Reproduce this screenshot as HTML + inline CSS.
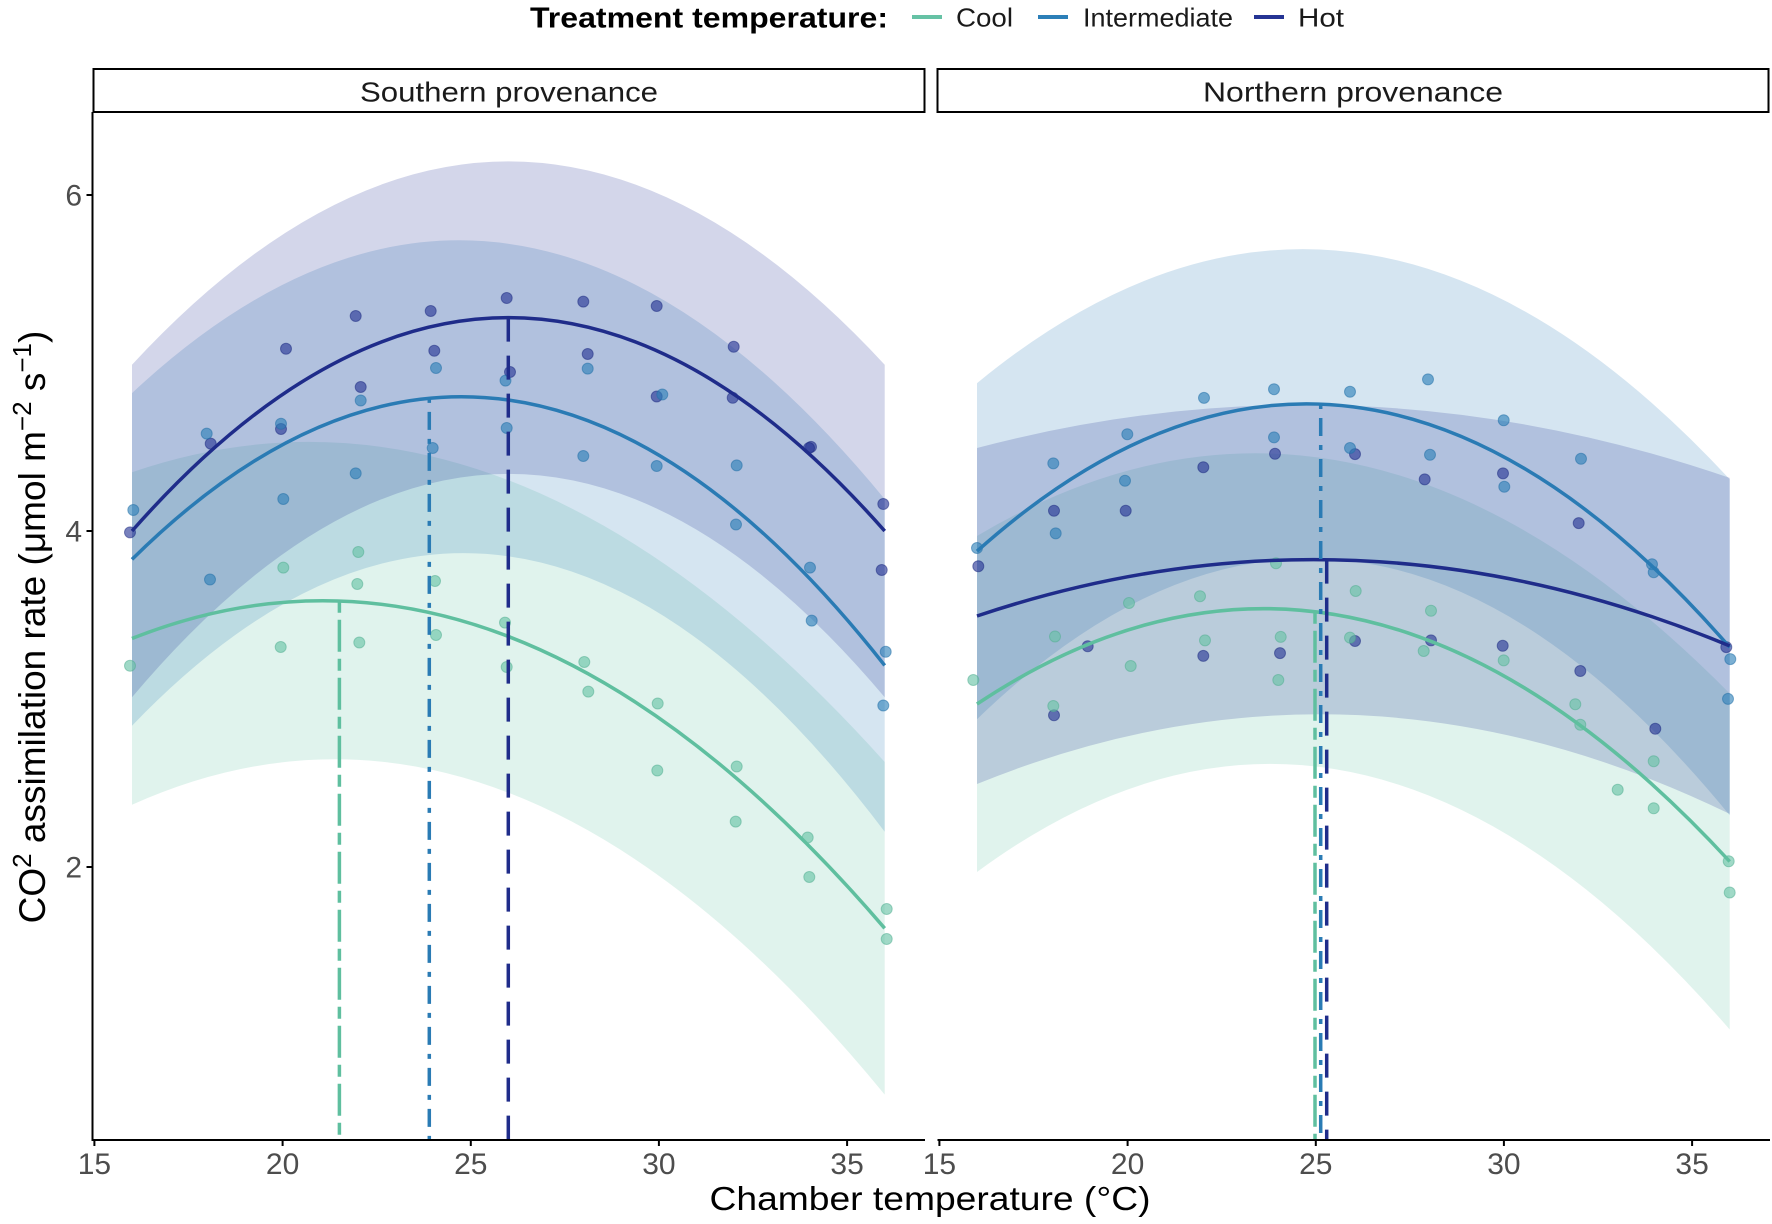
<!DOCTYPE html>
<html>
<head>
<meta charset="utf-8">
<style>
html,body{margin:0;padding:0;background:#ffffff;}
svg{display:block;}
text{font-family:"Liberation Sans",Arial,sans-serif;}
.tick{font-size:30px;fill:#4d4d4d;}
.pc{fill:#66c2a5;fill-opacity:0.62;stroke:#4fae90;stroke-opacity:0.5;stroke-width:1;}
.pi{fill:#2c7fb8;fill-opacity:0.62;stroke:#1f6ea5;stroke-opacity:0.5;stroke-width:1;}
.ph{fill:#253494;fill-opacity:0.62;stroke:#1c2a80;stroke-opacity:0.5;stroke-width:1;}
</style>
</head>
<body>
<svg width="1772" height="1224" viewBox="0 0 1772 1224" xmlns="http://www.w3.org/2000/svg">
<rect x="0" y="0" width="1772" height="1224" fill="#ffffff"/>

<!-- Legend -->
<text x="530" y="27.5" font-size="29" font-weight="bold" fill="#000" textLength="358" lengthAdjust="spacingAndGlyphs">Treatment temperature:</text>
<line x1="912" y1="17" x2="942" y2="17" stroke="#66c2a5" stroke-width="4"/>
<text x="956" y="26.5" font-size="26" fill="#1a1a1a" textLength="57" lengthAdjust="spacingAndGlyphs">Cool</text>
<line x1="1038" y1="17" x2="1068" y2="17" stroke="#2c7fb8" stroke-width="4"/>
<text x="1083" y="26.5" font-size="26" fill="#1a1a1a" textLength="150" lengthAdjust="spacingAndGlyphs">Intermediate</text>
<line x1="1254" y1="17" x2="1284" y2="17" stroke="#253494" stroke-width="4"/>
<text x="1298" y="26.5" font-size="26" fill="#1a1a1a" textLength="46" lengthAdjust="spacingAndGlyphs">Hot</text>

<!-- Strips -->
<rect x="93.5" y="69" width="831" height="43" fill="#ffffff" stroke="#000" stroke-width="2"/>
<text x="509" y="101.5" font-size="28" fill="#1a1a1a" text-anchor="middle" textLength="298" lengthAdjust="spacingAndGlyphs">Southern provenance</text>
<rect x="937.5" y="69" width="831" height="43" fill="#ffffff" stroke="#000" stroke-width="2"/>
<text x="1353" y="101.5" font-size="28" fill="#1a1a1a" text-anchor="middle" textLength="300" lengthAdjust="spacingAndGlyphs">Northern provenance</text>

<!-- LEFT PANEL ribbons -->
<path d="M132,472.2 Q508.4,343.3 884.7,762 L884.7,1094.6 Q508.4,635.7 132,804.8 Z" fill="#66c2a5" fill-opacity="0.2"/>
<path d="M132,393.1 Q508.4,41.4 884.7,499.1 L884.7,831.7 Q508.4,333.8 132,725.7 Z" fill="#2c7fb8" fill-opacity="0.2"/>
<path d="M132,364.7 Q508.4,-41.9 884.7,364.7 L884.7,697.3 Q508.4,250.4 132,697.3 Z" fill="#253494" fill-opacity="0.2"/>

<!-- RIGHT PANEL ribbons -->
<path d="M977,536 Q1353.4,312.3 1729.7,693.5 L1729.7,1029.5 Q1353.4,594.5 977,872 Z" fill="#66c2a5" fill-opacity="0.2"/>
<path d="M977,383.2 Q1353.4,73.4 1729.7,479.3 L1729.7,815.3 Q1353.4,355.6 977,719.2 Z" fill="#2c7fb8" fill-opacity="0.2"/>
<path d="M977,448 Q1353.4,348.7 1729.7,477.9 L1729.7,813.9 Q1353.4,631 977,784 Z" fill="#253494" fill-opacity="0.2"/>

<!-- LEFT points -->
<g>
<circle class="ph" cx="130" cy="532.4" r="5.5"/><circle class="ph" cx="210.7" cy="443.6" r="5.5"/><circle class="ph" cx="286" cy="348.7" r="5.5"/><circle class="ph" cx="281" cy="429" r="5.5"/><circle class="ph" cx="355.7" cy="316" r="5.5"/><circle class="ph" cx="360.7" cy="387" r="5.5"/><circle class="ph" cx="430.7" cy="311" r="5.5"/><circle class="ph" cx="434.3" cy="350.7" r="5.5"/><circle class="ph" cx="506.7" cy="298" r="5.5"/><circle class="ph" cx="510" cy="372" r="5.5"/><circle class="ph" cx="583.3" cy="301.6" r="5.5"/><circle class="ph" cx="587.7" cy="354" r="5.5"/><circle class="ph" cx="656.7" cy="306" r="5.5"/><circle class="ph" cx="656.7" cy="396.5" r="5.5"/><circle class="ph" cx="733.7" cy="346.7" r="5.5"/><circle class="ph" cx="732.7" cy="397.8" r="5.5"/><circle class="ph" cx="811" cy="446.9" r="5.5"/><circle class="ph" cx="809" cy="448" r="5.5"/><circle class="ph" cx="883.3" cy="504" r="5.5"/><circle class="ph" cx="881.7" cy="570" r="5.5"/>
<circle class="pi" cx="133.3" cy="510" r="5.5"/><circle class="pi" cx="206.7" cy="433.6" r="5.5"/><circle class="pi" cx="210" cy="579.5" r="5.5"/><circle class="pi" cx="281" cy="423.7" r="5.5"/><circle class="pi" cx="283.3" cy="499" r="5.5"/><circle class="pi" cx="360.7" cy="400.5" r="5.5"/><circle class="pi" cx="355.7" cy="473.4" r="5.5"/><circle class="pi" cx="436" cy="368" r="5.5"/><circle class="pi" cx="432.7" cy="448" r="5.5"/><circle class="pi" cx="505.5" cy="380.6" r="5.5"/><circle class="pi" cx="506.7" cy="428" r="5.5"/><circle class="pi" cx="587.7" cy="368.6" r="5.5"/><circle class="pi" cx="583.3" cy="456" r="5.5"/><circle class="pi" cx="662.3" cy="394.5" r="5.5"/><circle class="pi" cx="656.7" cy="466" r="5.5"/><circle class="pi" cx="736.7" cy="465.4" r="5.5"/><circle class="pi" cx="736" cy="524.5" r="5.5"/><circle class="pi" cx="810" cy="567.6" r="5.5"/><circle class="pi" cx="811.7" cy="620.6" r="5.5"/><circle class="pi" cx="885.7" cy="651.8" r="5.5"/><circle class="pi" cx="883.3" cy="705.5" r="5.5"/>
<circle class="pc" cx="130" cy="665.7" r="5.5"/><circle class="pc" cx="283.3" cy="567.6" r="5.5"/><circle class="pc" cx="280.7" cy="647" r="5.5"/><circle class="pc" cx="358.3" cy="552" r="5.5"/><circle class="pc" cx="357.3" cy="584" r="5.5"/><circle class="pc" cx="359.3" cy="642.5" r="5.5"/><circle class="pc" cx="435" cy="581" r="5.5"/><circle class="pc" cx="436" cy="635" r="5.5"/><circle class="pc" cx="505" cy="622.6" r="5.5"/><circle class="pc" cx="506.7" cy="667" r="5.5"/><circle class="pc" cx="584.3" cy="662" r="5.5"/><circle class="pc" cx="588.3" cy="691.6" r="5.5"/><circle class="pc" cx="657.7" cy="703.5" r="5.5"/><circle class="pc" cx="657.3" cy="770.5" r="5.5"/><circle class="pc" cx="736.7" cy="766.5" r="5.5"/><circle class="pc" cx="735.7" cy="821.6" r="5.5"/><circle class="pc" cx="807.7" cy="837.5" r="5.5"/><circle class="pc" cx="809.3" cy="877" r="5.5"/><circle class="pc" cx="886.7" cy="909" r="5.5"/><circle class="pc" cx="886.7" cy="939" r="5.5"/>
</g>

<!-- RIGHT points -->
<g>
<circle class="ph" cx="978.3" cy="566.2" r="5.5"/><circle class="ph" cx="1054" cy="510.7" r="5.5"/><circle class="ph" cx="1054" cy="715.2" r="5.5"/><circle class="ph" cx="1087.7" cy="646.2" r="5.5"/><circle class="ph" cx="1125.7" cy="510.7" r="5.5"/><circle class="ph" cx="1203.3" cy="467.2" r="5.5"/><circle class="ph" cx="1203.3" cy="655.9" r="5.5"/><circle class="ph" cx="1275" cy="453.8" r="5.5"/><circle class="ph" cx="1280" cy="653.1" r="5.5"/><circle class="ph" cx="1355" cy="454.1" r="5.5"/><circle class="ph" cx="1355" cy="641" r="5.5"/><circle class="ph" cx="1424.7" cy="479.4" r="5.5"/><circle class="ph" cx="1431" cy="640.4" r="5.5"/><circle class="ph" cx="1503" cy="473.4" r="5.5"/><circle class="ph" cx="1502.7" cy="645.8" r="5.5"/><circle class="ph" cx="1578.7" cy="523.1" r="5.5"/><circle class="ph" cx="1580.3" cy="671" r="5.5"/><circle class="ph" cx="1655.3" cy="728.7" r="5.5"/><circle class="ph" cx="1726.3" cy="647.1" r="5.5"/>
<circle class="pi" cx="977" cy="548" r="5.5"/><circle class="pi" cx="1053.3" cy="463.4" r="5.5"/><circle class="pi" cx="1055.7" cy="533.4" r="5.5"/><circle class="pi" cx="1127.3" cy="434.2" r="5.5"/><circle class="pi" cx="1125" cy="480.7" r="5.5"/><circle class="pi" cx="1204" cy="397.9" r="5.5"/><circle class="pi" cx="1274" cy="389.2" r="5.5"/><circle class="pi" cx="1274" cy="437.4" r="5.5"/><circle class="pi" cx="1350" cy="391.7" r="5.5"/><circle class="pi" cx="1350" cy="448" r="5.5"/><circle class="pi" cx="1428" cy="379.4" r="5.5"/><circle class="pi" cx="1430" cy="454.8" r="5.5"/><circle class="pi" cx="1503.7" cy="420.3" r="5.5"/><circle class="pi" cx="1504.3" cy="486.7" r="5.5"/><circle class="pi" cx="1581" cy="458.8" r="5.5"/><circle class="pi" cx="1652" cy="564.2" r="5.5"/><circle class="pi" cx="1653.7" cy="572.2" r="5.5"/><circle class="pi" cx="1730.3" cy="659.1" r="5.5"/><circle class="pi" cx="1728" cy="698.9" r="5.5"/>
<circle class="pc" cx="973.3" cy="680" r="5.5"/><circle class="pc" cx="1055" cy="636.5" r="5.5"/><circle class="pc" cx="1053.3" cy="706" r="5.5"/><circle class="pc" cx="1129" cy="603" r="5.5"/><circle class="pc" cx="1130.7" cy="666" r="5.5"/><circle class="pc" cx="1200" cy="596.2" r="5.5"/><circle class="pc" cx="1205" cy="640.4" r="5.5"/><circle class="pc" cx="1276" cy="563.2" r="5.5"/><circle class="pc" cx="1280.7" cy="636.9" r="5.5"/><circle class="pc" cx="1278.3" cy="680" r="5.5"/><circle class="pc" cx="1355.7" cy="591" r="5.5"/><circle class="pc" cx="1350" cy="637.6" r="5.5"/><circle class="pc" cx="1431" cy="610.7" r="5.5"/><circle class="pc" cx="1423.7" cy="651" r="5.5"/><circle class="pc" cx="1503.7" cy="660.4" r="5.5"/><circle class="pc" cx="1575.3" cy="704.2" r="5.5"/><circle class="pc" cx="1580.3" cy="724.7" r="5.5"/><circle class="pc" cx="1617.7" cy="789.7" r="5.5"/><circle class="pc" cx="1653.7" cy="761.2" r="5.5"/><circle class="pc" cx="1653.7" cy="808.3" r="5.5"/><circle class="pc" cx="1728.7" cy="861.3" r="5.5"/><circle class="pc" cx="1729.7" cy="892.5" r="5.5"/>
</g>

<!-- Fitted curves -->
<g fill="none" stroke-width="3.5" stroke-linecap="butt">
<path d="M132,638.5 Q508.4,489.5 884.7,928.3" stroke="#5fbf9f"/>
<path d="M132,559.4 Q508.4,187.6 884.7,665.4" stroke="#2a7bb4"/>
<path d="M132,531 Q508.4,104.3 884.7,531" stroke="#1f2c8a"/>
<path d="M977,704 Q1353.4,453.4 1729.7,861.5" stroke="#5fbf9f"/>
<path d="M977,551.2 Q1353.4,214.5 1729.7,647.3" stroke="#2a7bb4"/>
<path d="M977,616 Q1353.4,489.8 1729.7,645.9" stroke="#1f2c8a"/>
</g>

<!-- Vertical optimum lines -->
<g fill="none" stroke-width="3.5">
<path d="M339.4,600.7 V1140" stroke="#5fbf9f" stroke-dasharray="12 7 32 7"/>
<path d="M429.3,397.9 V1140" stroke="#2a7bb4" stroke-dasharray="5 9 18 9"/>
<path d="M508.3,317.6 V1140" stroke="#1f2c8a" stroke-dasharray="24 14"/>
<path d="M1315,611.8 V1140" stroke="#5fbf9f" stroke-dasharray="12 7 32 7"/>
<path d="M1320.7,404 V1140" stroke="#2a7bb4" stroke-dasharray="5 9 18 9"/>
<path d="M1326.7,559.6 V1140" stroke="#1f2c8a" stroke-dasharray="24 14"/>
</g>

<!-- Axes -->
<g stroke="#000" stroke-width="2" fill="none">
<line x1="92.5" y1="112" x2="92.5" y2="1141"/>
<line x1="91.5" y1="1140" x2="925" y2="1140"/>
<line x1="937.5" y1="1140" x2="1770" y2="1140"/>
<line x1="86.5" y1="195" x2="92.5" y2="195"/>
<line x1="86.5" y1="531" x2="92.5" y2="531"/>
<line x1="86.5" y1="867" x2="92.5" y2="867"/>
<line x1="94.4" y1="1140" x2="94.4" y2="1146"/>
<line x1="282.6" y1="1140" x2="282.6" y2="1146"/>
<line x1="470.8" y1="1140" x2="470.8" y2="1146"/>
<line x1="658.9" y1="1140" x2="658.9" y2="1146"/>
<line x1="847.1" y1="1140" x2="847.1" y2="1146"/>
<line x1="939.4" y1="1140" x2="939.4" y2="1146"/>
<line x1="1127.6" y1="1140" x2="1127.6" y2="1146"/>
<line x1="1315.8" y1="1140" x2="1315.8" y2="1146"/>
<line x1="1503.9" y1="1140" x2="1503.9" y2="1146"/>
<line x1="1692.1" y1="1140" x2="1692.1" y2="1146"/>
</g>

<!-- Tick labels -->
<text class="tick" x="82" y="205.5" text-anchor="end">6</text>
<text class="tick" x="82" y="541.5" text-anchor="end">4</text>
<text class="tick" x="82" y="877.5" text-anchor="end">2</text>

<text class="tick" x="94.4" y="1174" text-anchor="middle">15</text>
<text class="tick" x="282.6" y="1174" text-anchor="middle">20</text>
<text class="tick" x="470.8" y="1174" text-anchor="middle">25</text>
<text class="tick" x="658.9" y="1174" text-anchor="middle">30</text>
<text class="tick" x="847.1" y="1174" text-anchor="middle">35</text>
<text class="tick" x="939.4" y="1174" text-anchor="middle">15</text>
<text class="tick" x="1127.6" y="1174" text-anchor="middle">20</text>
<text class="tick" x="1315.8" y="1174" text-anchor="middle">25</text>
<text class="tick" x="1503.9" y="1174" text-anchor="middle">30</text>
<text class="tick" x="1692.1" y="1174" text-anchor="middle">35</text>

<!-- Axis titles -->
<text x="930" y="1210" font-size="33" fill="#000" text-anchor="middle" textLength="441" lengthAdjust="spacingAndGlyphs">Chamber temperature (°C)</text>

<text transform="translate(45,627) rotate(-90)" x="0" y="0" font-size="37" fill="#000" text-anchor="middle">CO<tspan font-size="26" dy="-14">2</tspan><tspan dy="14"> assimilation rate (μmol m</tspan><tspan font-size="26" dy="-14">−2</tspan><tspan dy="14"> s</tspan><tspan font-size="26" dy="-14">−1</tspan><tspan dy="14">)</tspan></text>
</svg>
</body>
</html>
